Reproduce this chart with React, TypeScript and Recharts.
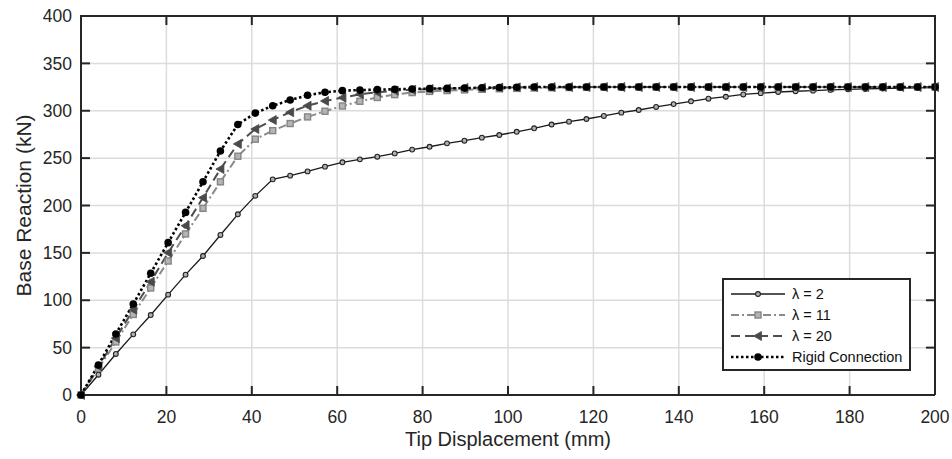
import React from "react";
import {
  LineChart,
  Line,
  XAxis,
  YAxis,
  CartesianGrid,
} from "recharts";

// tip displacement (mm), shared by every curve
const displacement = [
  0, 4.08, 8.16, 12.24, 16.33, 20.41, 24.49, 28.57, 32.65, 36.73,
  40.82, 44.9, 48.98, 53.06, 57.14, 61.22, 65.31, 69.39, 73.47, 77.55,
  81.63, 85.71, 89.8, 93.88, 97.96, 102.04, 106.12, 110.2, 114.29, 118.37,
  122.45, 126.53, 130.61, 134.69, 138.78, 142.86, 146.94, 151.02, 155.1, 159.18,
  163.27, 167.35, 171.43, 175.51, 179.59, 183.67, 187.76, 191.84, 195.92, 200,
];

// base reaction (kN)
const lambda2 = [
  0, 21.4, 43.3, 64, 84.4, 105.9, 127, 146.7, 168.9, 190.7,
  210.2, 227.6, 231.5, 236, 241, 245.6, 248.7, 251.5, 255, 259,
  262, 265.6, 268.4, 271.6, 274.4, 277.8, 281.5, 285.5, 288.5, 291.3,
  294.5, 298, 300.8, 304, 307, 310, 312.7, 314.8, 317.2, 318.6,
  319.8, 320.6, 321.2, 322, 322.6, 323, 323.5, 324, 324.2, 324.5,
];

const lambda11 = [
  0, 28, 56, 85, 113, 141.4, 170, 197, 225, 252,
  270, 279, 286.5, 293.5, 299.5, 305, 310, 314, 317, 319.2,
  320.4, 321.3, 322, 322.6, 323.2, 323.6, 324, 324.3, 324.5, 324.7,
  325, 325, 325, 325, 325, 325, 325, 325, 325, 325,
  325, 325, 325, 325, 325, 325, 325, 325, 325, 325,
];

const lambda20 = [
  0, 30, 60, 90, 119.6, 150.2, 178.7, 208.3, 238.5, 265,
  280.7, 290.2, 298.4, 305.3, 310.3, 313.8, 317.4, 319.5, 321.2, 322.2,
  323, 323.5, 324, 324.3, 324.5, 324.7, 325, 325, 325, 325,
  325, 325, 325, 325, 325, 325, 325, 325, 325, 325,
  325, 325, 325, 325, 325, 325, 325, 325, 325, 325,
];

const rigid = [
  0, 31.7, 64.4, 96, 128.5, 160.8, 192.7, 225, 257.5, 285.5,
  297.5, 305.3, 311.3, 316.3, 319.5, 321.2, 321.8, 322.3, 322.7, 323,
  323.3, 323.6, 323.9, 324.2, 324.5, 324.8, 325, 325, 325, 325,
  325, 325, 325, 325, 325, 325, 325, 325, 325, 325,
  325, 325, 325, 325, 325, 325, 325, 325, 325, 325,
];

const xTicks = [0, 20, 40, 60, 80, 100, 120, 140, 160, 180, 200];
const yTicks = [0, 50, 100, 150, 200, 250, 300, 350, 400];

const X_MAX = 200;
const Y_MAX = 400;

const data = displacement.map((x, i) => ({
  x,
  l2: lambda2[i],
  l11: lambda11[i],
  l20: lambda20[i],
  rigid: rigid[i],
}));

const AXIS = "#262626";
const FONT = "'Liberation Sans', Arial, Helvetica, sans-serif";
const TICK_FONT = 17.5;

// chart box
const W = 952;
const H = 459;
const M = { top: 16, right: 17, left: 0, bottom: 0 };
const Y_AXIS_W = 81;
const X_AXIS_H = 64;
const TICK = 9;
const PLOT_LEFT = M.left + Y_AXIS_W;
const PLOT_RIGHT = W - M.right;
const PLOT_TOP = M.top;
const PLOT_BOTTOM = H - M.bottom - X_AXIS_H;

type MarkerKind = "circle" | "square" | "triangle" | "dot";

function marker(kind: MarkerKind, cx: number, cy: number, key?: any) {
  if (kind === "circle")
    return <circle key={key} cx={cx} cy={cy} r={2.4} fill="#b0b0b0" stroke="#222" strokeWidth={1.1} />;
  if (kind === "square")
    return <rect key={key} x={cx - 3} y={cy - 3} width={6} height={6} fill="#b4b4b4" stroke="#858585" strokeWidth={1.4} />;
  if (kind === "triangle")
    return (
      <polygon
        key={key}
        points={`${cx - 4.5},${cy} ${cx + 3.5},${cy - 4.5} ${cx + 3.5},${cy + 4.5}`}
        fill="#4a4a4a"
        stroke="#4a4a4a"
        strokeWidth={0.8}
      />
    );
  return <circle key={key} cx={cx} cy={cy} r={3.8} fill="#000" />;
}

const series = [
  { key: "l2", name: "λ = 2", color: "#1a1a1a", width: 1.3, dash: undefined, kind: "circle" as MarkerKind },
  { key: "l11", name: "λ = 11", color: "#8a8a8a", width: 2, dash: "8 3 2 3", kind: "square" as MarkerKind },
  { key: "l20", name: "λ = 20", color: "#4d4d4d", width: 2, dash: "9 5", kind: "triangle" as MarkerKind },
  { key: "rigid", name: "Rigid Connection", color: "#000", width: 2.6, dash: "2.5 2.5", kind: "dot" as MarkerKind },
];

// bottom tick: label, plus the mirrored inward tick on the top edge (and the right edge at the last tick)
function XTick(props: any) {
  const { x, y, payload } = props;
  return (
    <g>
      <text x={x} y={y} dy="0.71em" textAnchor="middle" fill={AXIS} fontSize={TICK_FONT} fontFamily={FONT}>
        {payload.value}
      </text>
      <line x1={x} y1={PLOT_TOP} x2={x} y2={PLOT_TOP + TICK} stroke={AXIS} strokeWidth={2} />
      {payload.value === X_MAX && (
        <line x1={x} y1={PLOT_TOP - 1} x2={x} y2={PLOT_BOTTOM} stroke={AXIS} strokeWidth={2} />
      )}
    </g>
  );
}

// left tick: label, plus the mirrored inward tick on the right edge (and the top edge at the last tick)
function YTick(props: any) {
  const { x, y, payload } = props;
  return (
    <g>
      <text x={x} y={y} dy="0.35em" textAnchor="end" fill={AXIS} fontSize={TICK_FONT} fontFamily={FONT}>
        {payload.value}
      </text>
      <line x1={PLOT_RIGHT - TICK} y1={y} x2={PLOT_RIGHT} y2={y} stroke={AXIS} strokeWidth={2} />
      {payload.value === Y_MAX && (
        <line x1={PLOT_LEFT - 1} y1={y} x2={PLOT_RIGHT + 1} y2={y} stroke={AXIS} strokeWidth={2} />
      )}
    </g>
  );
}

function LegendBox() {
  return (
    <div
      style={{
        position: "absolute",
        left: 722,
        top: 278,
        width: 189,
        height: 93,
        border: `2px solid ${AXIS}`,
        background: "#fff",
        fontFamily: FONT,
        fontSize: 14.5,
        color: "#111",
        boxSizing: "border-box",
        paddingTop: 3,
        zIndex: 3,
      }}
    >
      {series.map((s) => (
        <div key={s.key} style={{ display: "flex", alignItems: "center", height: 21 }}>
          <svg width={66} height={14} style={{ marginLeft: 1 }}>
            <line x1={6} y1={7} x2={60} y2={7} stroke={s.color} strokeWidth={s.width} strokeDasharray={s.dash} />
            {marker(s.kind, 33, 7)}
          </svg>
          <span style={{ marginLeft: 1 }}>{s.name}</span>
        </div>
      ))}
    </div>
  );
}

export default function App() {
  return (
    <div style={{ position: "absolute", left: 0, top: 0, width: W, height: H, background: "#fff" }}>
      <LineChart width={W} height={H} data={data} margin={M}>
        <CartesianGrid stroke="#dcdcdc" strokeWidth={1.5} horizontalValues={yTicks} verticalValues={xTicks} />
        <XAxis
          dataKey="x"
          type="number"
          domain={[0, X_MAX]}
          ticks={xTicks}
          height={X_AXIS_H}
          stroke={AXIS}
          strokeWidth={2}
          tickSize={-TICK}
          tickMargin={25}
          tick={<XTick />}
          label={{ value: "Tip Displacement (mm)", position: "center", dy: 12, fill: AXIS, fontSize: 20, fontFamily: FONT }}
        />
        <YAxis
          type="number"
          domain={[0, Y_MAX]}
          ticks={yTicks}
          width={Y_AXIS_W}
          stroke={AXIS}
          strokeWidth={2}
          tickSize={-TICK}
          tickMargin={18}
          tick={<YTick />}
          label={{ value: "Base Reaction (kN)", angle: -90, position: "center", dx: -17, fill: AXIS, fontSize: 21, fontFamily: FONT }}
        />
        {series.map((s) => (
          <Line
            key={s.key}
            type="linear"
            dataKey={s.key}
            name={s.name}
            stroke={s.color}
            strokeWidth={s.width}
            strokeDasharray={s.dash}
            dot={(p: any) => marker(s.kind, p.cx, p.cy, `${s.key}-${p.index}`)}
            activeDot={false}
            isAnimationActive={false}
          />
        ))}
      </LineChart>
      <LegendBox />
    </div>
  );
}
